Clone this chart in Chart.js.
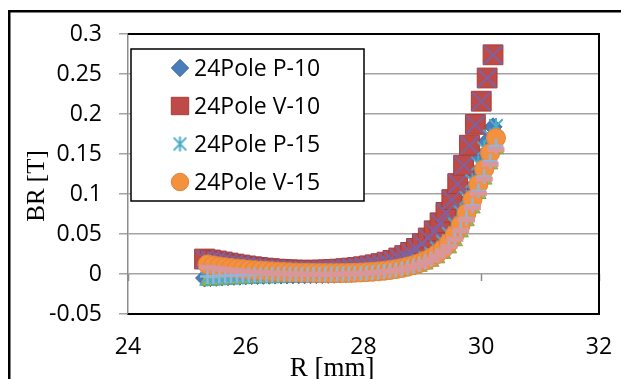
<!DOCTYPE html>
<html><head><meta charset="utf-8">
<script src="https://cdn.jsdelivr.net/npm/chart.js@4.4.1/dist/chart.umd.min.js"></script>
<style>html,body{margin:0;padding:0;background:#fff;overflow:hidden}#wrap{position:relative;width:621px;height:379px}</style>
</head><body><div id="wrap"><canvas id="c" width="621" height="379"></canvas></div>
<script>
// ---- data ----
const legendNames = ['24Pole P-10', '24Pole V-10', '24Pole P-15', '24Pole V-15'];
const xTickValues = [24, 26, 28, 30, 32];
const xTickLabels = ['24', '26', '28', '30', '32'];
const yTickValues = [-0.05, 0, 0.05, 0.1, 0.15, 0.2, 0.25, 0.3];
const yTickLabels = ['-0.05', '0', '0.05', '0.1', '0.15', '0.2', '0.25', '0.3'];
const xTitle = 'R [mm]';
const yTitle = 'BR [T]';

// radius positions (mm)
const r10 = [25.3,25.4,25.5,25.6,25.7,25.8,25.9,26.0,26.1,26.2,
             26.3,26.4,26.5,26.6,26.7,26.8,26.9,27.0,27.1,27.2,
             27.3,27.4,27.5,27.6,27.7,27.8,27.9,28.0,28.1,28.2,
             28.3,28.4,28.5,28.6,28.7,28.8,28.9,29.0,29.1,29.2,
             29.3,29.4,29.5,29.6,29.7,29.8,29.9,30.0,30.1,30.2];
const r15 = [25.35,25.45,25.55,25.65,25.75,25.85,25.95,26.05,26.15,26.25,
             26.35,26.45,26.55,26.65,26.75,26.85,26.95,27.05,27.15,27.25,
             27.35,27.45,27.55,27.65,27.75,27.85,27.95,28.05,28.15,28.25,
             28.35,28.45,28.55,28.65,28.75,28.85,28.95,29.05,29.15,29.25,
             29.35,29.45,29.55,29.65,29.75,29.85,29.95,30.05,30.15,30.25];

// 24Pole P-10 (BR in T)
const p10 = [-0.0050,-0.0046,-0.0042,-0.0038,-0.0034,-0.0030,-0.0027,-0.0024,-0.0021,-0.0019,
             -0.0017,-0.0015,-0.0014,-0.0013,-0.0012,-0.0011,-0.0010,-0.0010,-0.0009,-0.0008,
             -0.0007,-0.0005,-0.0003,0.0000,0.0003,0.0007,0.0012,0.0018,0.0025,0.0033,
             0.0043,0.0055,0.0069,0.0086,0.0106,0.013,0.016,0.020,0.025,0.031,
             0.038,0.047,0.058,0.071,0.087,0.105,0.125,0.146,0.166,0.184];
// 24Pole V-10
const v10 = [0.0187,0.0175,0.0163,0.0150,0.0137,0.0124,0.0112,0.0101,0.0091,0.0082,
             0.0074,0.0067,0.0061,0.0056,0.0052,0.0049,0.0047,0.0046,0.0046,0.0047,
             0.0049,0.0052,0.0056,0.0061,0.0067,0.0074,0.0082,0.0091,0.0102,0.0115,
             0.0130,0.0148,0.017,0.020,0.023,0.027,0.032,0.038,0.045,0.054,
             0.064,0.077,0.093,0.113,0.136,0.161,0.187,0.216,0.245,0.274];
// 24Pole P-15
const p15 = [-0.0055,-0.0050,-0.0045,-0.0041,-0.0037,-0.0033,-0.0030,-0.0027,-0.0024,-0.0022,
             -0.0020,-0.0018,-0.0016,-0.0015,-0.0014,-0.0013,-0.0012,-0.0011,-0.0010,-0.0009,
             -0.0008,-0.0006,-0.0004,-0.0001,0.0002,0.0006,0.0011,0.0017,0.0024,0.0032,
             0.0042,0.0054,0.0068,0.0085,0.0105,0.013,0.016,0.020,0.025,0.032,
             0.040,0.050,0.062,0.077,0.095,0.116,0.138,0.157,0.172,0.185];
// 24Pole V-15
const v15 = [0.0120,0.0107,0.0095,0.0085,0.0076,0.0068,0.0061,0.0054,0.0048,0.0043,
             0.0038,0.0033,0.0029,0.0025,0.0022,0.0019,0.0017,0.0015,0.0014,0.0013,
             0.0012,0.0012,0.0012,0.0013,0.0014,0.0016,0.0019,0.0023,0.0028,0.0034,
             0.0041,0.0050,0.0061,0.0075,0.0092,0.0112,0.0137,0.0168,0.0205,0.0250,
             0.0310,0.039,0.049,0.061,0.076,0.093,0.112,0.131,0.151,0.170];
// unlabelled series (hidden from legend in the original)
const s3 = [-0.0085,-0.0080,-0.0075,-0.0070,-0.0066,-0.0062,-0.0058,-0.0055,-0.0052,-0.0049,
            -0.0047,-0.0045,-0.0043,-0.0041,-0.0040,-0.0039,-0.0038,-0.0037,-0.0036,-0.0035,
            -0.0034,-0.0032,-0.0030,-0.0028,-0.0025,-0.0022,-0.0018,-0.0014,-0.0009,-0.0003,
            0.0004,0.0012,0.0022,0.0034,0.0049,0.0067,0.0090,0.0118,0.0153,0.0196,
            0.0250,0.0320,0.0410,0.0520,0.0660,0.0820,0.1000,0.1180,0.1370,0.1560];
const s4 = [0.0185,0.0173,0.0161,0.0149,0.0136,0.0123,0.0111,0.0100,0.0090,0.0081,
            0.0073,0.0066,0.0060,0.0055,0.0051,0.0048,0.0046,0.0045,0.0045,0.0046,
            0.0048,0.0051,0.0055,0.0060,0.0066,0.0073,0.0081,0.0090,0.0101,0.0114,
            0.0129,0.0147,0.0168,0.0198,0.0228,0.0268,0.0318,0.0378,0.0448,0.0537,
            0.0637,0.0767,0.0927,0.1127,0.1357,0.1607,0.1867,0.2157,0.2447,0.2737];
const s7 = [-0.0030,-0.0027,-0.0024,-0.0021,-0.0018,-0.0016,-0.0014,-0.0012,-0.0010,-0.0009,
            -0.0008,-0.0007,-0.0006,-0.0005,-0.0004,-0.0004,-0.0003,-0.0003,-0.0002,-0.0002,
            -0.0001,0.0000,0.0001,0.0002,0.0004,0.0006,0.0009,0.0013,0.0018,0.0024,
            0.0031,0.0040,0.0051,0.0064,0.0080,0.0099,0.0122,0.0150,0.0185,0.0228,
            0.0283,0.0355,0.0447,0.0560,0.0700,0.0860,0.1040,0.1220,0.1410,0.1600];
const s8 = [0.0085,0.0074,0.0064,0.0055,0.0047,0.0040,0.0033,0.0027,0.0022,0.0017,
            0.0013,0.0009,0.0006,0.0003,0.0001,-0.0001,-0.0002,-0.0003,-0.0004,-0.0004,
            -0.0004,-0.0004,-0.0003,-0.0002,0.0000,0.0002,0.0005,0.0009,0.0014,0.0020,
            0.0027,0.0036,0.0047,0.0060,0.0076,0.0095,0.0118,0.0146,0.0180,0.0222,
            0.0275,0.0345,0.0433,0.0540,0.0675,0.0830,0.1005,0.1185,0.1370,0.1555];

// ---- marker helpers ----
function makeAsterisk(size, color, lw) {
  const c = document.createElement('canvas');
  c.width = size; c.height = size;
  const g = c.getContext('2d');
  g.strokeStyle = color; g.lineWidth = lw;
  const m = size / 2, a = size / 2 - 1;
  g.beginPath();
  g.moveTo(m, m - a); g.lineTo(m, m + a);
  g.moveTo(m - a * 0.85, m - a * 0.85); g.lineTo(m + a * 0.85, m + a * 0.85);
  g.moveTo(m + a * 0.85, m - a * 0.85); g.lineTo(m - a * 0.85, m + a * 0.85);
  g.stroke();
  return c;
}
const asteriskPlot = makeAsterisk(18, '#4BACC6', 2);
const asteriskLegend = makeAsterisk(17, '#4BACC6', 2);

function pts(xs, ys) { return xs.map((x, i) => ({x: x, y: ys[i]})); }
function ds(label, xs, ys, style, radius, bg, border, bw, order) {
  return {label: label, data: pts(xs, ys), pointStyle: style, pointRadius: radius,
          pointBackgroundColor: bg, pointBorderColor: border, pointBorderWidth: bw,
          backgroundColor: bg, borderColor: border, showLine: false, order: order};
}

const datasets = [
  ds(legendNames[0], r10, p10, 'rectRot', 9, '#4A7EBB', '#3D6AA0', 1, 8),
  ds(legendNames[1], r10, v10, 'rect', 14, '#BE4B48', '#A53E3B', 1, 7),
  ds('', r15, s3, 'triangle', 9, '#9BBB59', '#86A64A', 1, 6),
  ds('', r10, s4, 'crossRot', 13, '#7E62A1', '#7E62A1', 2, 5),
  ds(legendNames[2], r15, p15, asteriskPlot, 9, '#4BACC6', '#4BACC6', 2, 4),
  ds(legendNames[3], r15, v15, 'circle', 9.5, '#F3913F', '#E4843A', 1, 3),
  ds('', r15, s7, 'cross', 7.5, '#93B4DC', '#93B4DC', 2.5, 2),
  ds('', r15, s8, 'line', 8.5, '#D9979A', '#D9979A', 5, 1)
];
const legendOrder = [0, 1, 4, 5];

// ---- plugins ----
const framePlugin = {
  id: 'frame',
  beforeDraw(chart) {
    const ctx = chart.ctx;
    ctx.save();
    ctx.fillStyle = '#fff';
    ctx.fillRect(0, 0, chart.width, chart.height);
    ctx.strokeStyle = '#000';
    ctx.lineWidth = 2.5;
    ctx.strokeRect(9.25, 11.25, 700, 500);
    ctx.restore();
  },
  beforeDatasetsDraw(chart) {
    const ctx = chart.ctx, a = chart.chartArea;
    const xs = chart.scales.x, ys = chart.scales.y;
    ctx.save();
    const y0 = ys.getPixelForValue(0);
    ctx.strokeStyle = '#8C8C8C'; ctx.lineWidth = 1.5;
    xTickValues.forEach(v => {
      const px = Math.round(xs.getPixelForValue(v)) + 0.5;
      ctx.beginPath(); ctx.moveTo(px, y0); ctx.lineTo(px, y0 + 7); ctx.stroke();
    });
    ctx.strokeStyle = '#000'; ctx.lineWidth = 2;
    ctx.beginPath();
    ctx.moveTo(a.left, a.top); ctx.lineTo(a.right, a.top); ctx.lineTo(a.right, a.bottom); ctx.lineTo(a.left, a.bottom);
    ctx.stroke();
    ctx.restore();
  },
  afterDraw(chart) {
    const ctx = chart.ctx, a = chart.chartArea;
    ctx.save();
    ctx.fillStyle = '#000';
    ctx.font = '27px "Liberation Serif"';
    ctx.textAlign = 'center'; ctx.textBaseline = 'alphabetic';
    ctx.fillText(xTitle, 332, 376);
    ctx.font = '25px "Liberation Serif"';
    ctx.translate(44, 186);
    ctx.rotate(-Math.PI / 2);
    ctx.fillText(yTitle, 0, 0);
    ctx.restore();

    ctx.save();
    const x0 = a.left + 3, y0 = a.top + 15, w = 233, h = 152;
    ctx.fillStyle = '#fff'; ctx.fillRect(x0, y0, w, h);
    ctx.strokeStyle = '#000'; ctx.lineWidth = 1.5; ctx.strokeRect(x0, y0, w, h);
    ctx.font = '23px "Open Sans"';
    ctx.textAlign = 'left'; ctx.textBaseline = 'middle';
    legendOrder.forEach((di, k) => {
      const d = chart.data.datasets[di];
      const cy = y0 + 19 + k * 38;
      const cx = x0 + 49;
      ctx.save();
      ctx.fillStyle = d.pointBackgroundColor;
      ctx.strokeStyle = d.pointBorderColor;
      ctx.lineWidth = d.pointBorderWidth;
      let style = d.pointStyle;
      if (style === asteriskPlot) style = asteriskLegend;
      const rad = (d.pointStyle === 'rect') ? 12.3 : 8.7;
      Chart.helpers.drawPoint(ctx, {pointStyle: style, radius: rad, rotation: 0, borderWidth: d.pointBorderWidth}, cx, cy);
      ctx.restore();
      ctx.fillStyle = '#000';
      ctx.fillText(d.label, x0 + 63, cy + 1);
    });
    ctx.restore();
  }
};

new Chart(document.getElementById('c'), {
  type: 'scatter',
  data: {datasets: datasets},
  options: {
    responsive: false,
    animation: false,
    events: [],
    layout: {padding: {left: 20, top: 34, right: 22, bottom: 0}},
    plugins: {legend: {display: false}, tooltip: {enabled: false}},
    scales: {
      x: {
        type: 'linear', min: 24, max: 32,
        afterBuildTicks: s => { s.ticks = xTickValues.map(v => ({value: v})); },
        afterFit: s => { s.height = 65; },
        ticks: {callback: (v, i) => xTickLabels[i], font: {family: 'Open Sans', size: 23}, color: '#000',
                padding: 0, maxRotation: 0, autoSkip: false},
        grid: {display: false, drawTicks: true, tickLength: 20},
        border: {display: true, color: '#000', width: 2}
      },
      y: {
        type: 'linear', min: -0.05, max: 0.3,
        afterBuildTicks: s => { s.ticks = yTickValues.map(v => ({value: v})); },
        afterFit: s => { s.width = 108; },
        ticks: {callback: (v, i) => yTickLabels[i], font: {family: 'Open Sans', size: 23}, color: '#000',
                padding: 17, autoSkip: false},
        grid: {color: '#A3A3A3', lineWidth: 1.5, tickLength: 9, drawTicks: true},
        border: {display: true, color: '#8C8C8C', width: 1.5}
      }
    }
  },
  plugins: [framePlugin]
});
</script>
</body></html>
